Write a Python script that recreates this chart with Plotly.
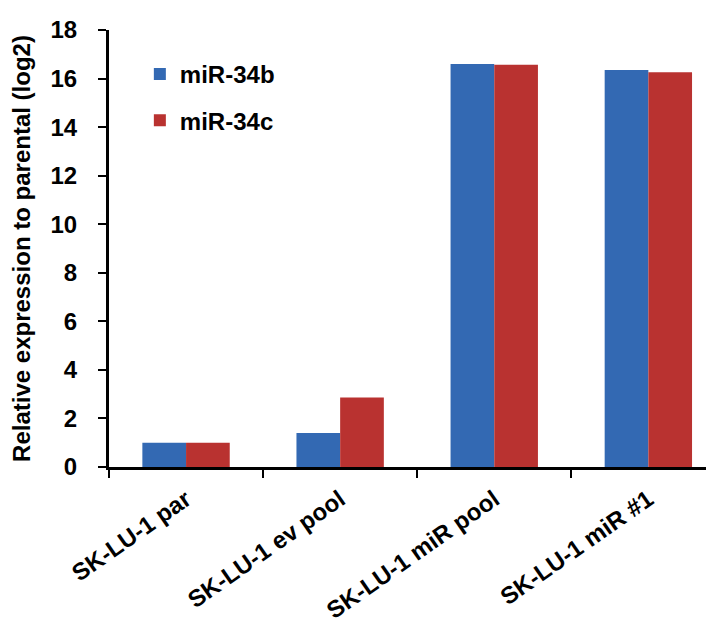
import plotly.graph_objects as go

categories = ["SK-LU-1 par", "SK-LU-1 ev pool", "SK-LU-1 miR pool", "SK-LU-1 miR #1"]
mir34b = [1.0, 1.4, 16.6, 16.35]
mir34c = [1.0, 2.86, 16.57, 16.26]
y_ticks = [0, 2, 4, 6, 8, 10, 12, 14, 16, 18]

FONT = "Liberation Sans, Arial, sans-serif"

fig = go.Figure()
fig.add_trace(go.Bar(x=categories, y=mir34b, name="miR-34b",
                     marker=dict(color="#3369B3", line=dict(width=0)),
                     legendgroup="b"))
fig.add_trace(go.Bar(x=categories, y=mir34c, name="miR-34c",
                     marker=dict(color="#B93230", line=dict(width=0)),
                     legendgroup="c"))

fig.update_layout(
    width=706, height=626,
    paper_bgcolor="white", plot_bgcolor="white",
    margin=dict(l=101, r=0, t=22, b=167, autoexpand=False),
    barmode="group", bargap=0.433, bargroupgap=0,
    font=dict(family=FONT, size=22, color="black", weight="bold"),
    legend=dict(x=0.051, y=0.95, xanchor="left", yanchor="top",
                font=dict(size=24, weight="bold"),
                bgcolor="rgba(0,0,0,0)", traceorder="grouped",
                tracegroupgap=12, itemwidth=30),
    showlegend=True,
)
fig.update_xaxes(
    range=[-0.5, 3.426], automargin=False,
    showline=True, linecolor="black", linewidth=3,
    ticks="outside", tickson="boundaries", ticklen=8, tickwidth=2, tickcolor="black",
    tickangle=-35, tickfont=dict(size=24, weight="bold"),
    ticklabelstandoff=6,
    showgrid=False, zeroline=False,
)
fig.update_yaxes(
    range=[0, 18], tickvals=y_ticks, automargin=False,
    showline=True, linecolor="black", linewidth=3,
    ticks="outside", ticklen=8, tickwidth=2, tickcolor="black",
    tickfont=dict(size=24, weight="bold"),
    ticklabelstandoff=16,
    showgrid=False, zeroline=False,
    title=dict(text="Relative expression to parental (log2)",
               font=dict(size=24, weight="bold"), standoff=26),
)

fig.write_html("out.html")
